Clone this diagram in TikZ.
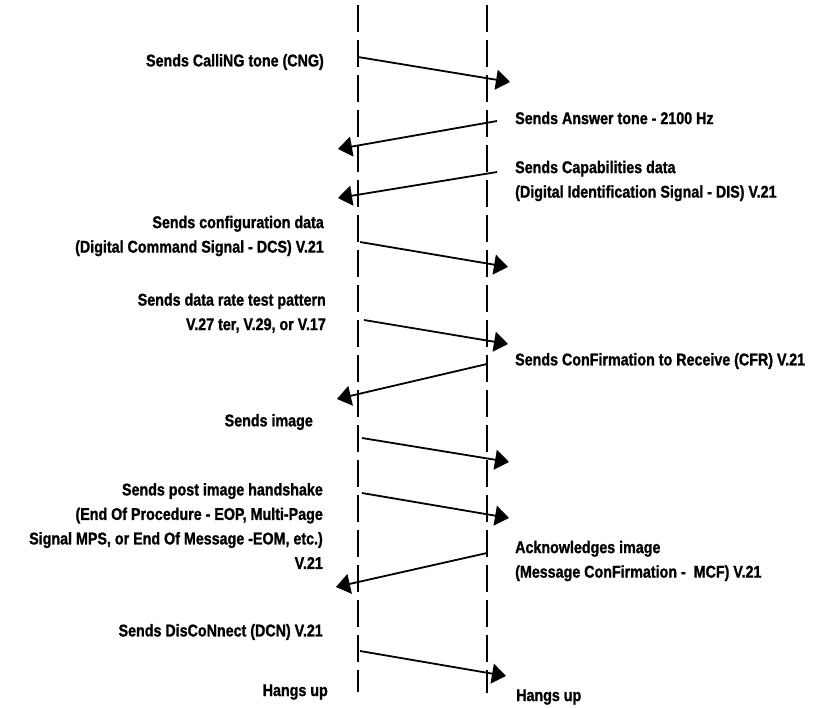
\documentclass[tikz,border=0pt]{standalone}
\usepackage{fontspec}
\setmainfont{Liberation Sans}[FakeStretch=0.84,FakeBold=1.2]
\usetikzlibrary{arrows.meta}
\begin{document}
\begin{tikzpicture}[x=1pt,y=-1pt,
  lifeline/.style={line width=2pt, dash pattern=on 27pt off 8pt},
  msg/.style={line width=1.8pt, -{Triangle[length=14pt,width=20pt]}},
  lbl/.style={font=\bfseries\fontsize{17}{24.5}\selectfont, inner sep=0pt},
  lft/.style={lbl, anchor=east, align=right},
  rgt/.style={lbl, anchor=west, align=left}]
\useasboundingbox (0,0) rectangle (822,707);
% lifelines
\coordinate (LT) at (357.5,5); \coordinate (LB) at (357.5,692);
\coordinate (RT) at (487,5);   \coordinate (RB) at (487,693);
\draw[lifeline] (LT) -- (LB);
\draw[lifeline] (RT) -- (RB);
% message end points
\coordinate (m1s) at (358,57);  \coordinate (m1e) at (510,82);
\coordinate (m2s) at (497,121); \coordinate (m2e) at (338,149);
\coordinate (m3s) at (497,172); \coordinate (m3e) at (338,198);
\coordinate (m4s) at (360,242); \coordinate (m4e) at (508,267);
\coordinate (m5s) at (364,320); \coordinate (m5e) at (508,344);
\coordinate (m6s) at (487,364); \coordinate (m6e) at (337,399);
\coordinate (m7s) at (362,438); \coordinate (m7e) at (509,462);
\coordinate (m8s) at (362,493); \coordinate (m8e) at (509,518);
\coordinate (m9s) at (487,553); \coordinate (m9e) at (336,587);
\coordinate (m10s) at (360,651); \coordinate (m10e) at (506,676);
\foreach \i in {1,...,10} {\draw[msg] (m\i s) -- (m\i e);}
% labels left
\node[lft] (t1) at (324,62) {Sends CalliNG tone (CNG)};
\node[lft] (t4) at (324,236) {Sends configuration data\\(Digital Command Signal - DCS) V.21};
\node[lft] (t5) at (326,313) {Sends data rate test pattern\\V.27 ter, V.29, or V.17};
\node[lft] (t7) at (313,422) {Sends image};
\node[lft] (t8) at (323,526) {Sends post image handshake\\(End Of Procedure - EOP, Multi-Page\\Signal MPS, or End Of Message -EOM, etc.)\\V.21};
\node[lft] (t10) at (323,632) {Sends DisCoNnect (DCN) V.21};
\node[lft] (t11) at (328,692) {Hangs up};
% labels right
\node[rgt] (t2) at (515,118) {Sends Answer tone - 2100 Hz};
\node[rgt] (t3) at (515,181) {Sends Capabilities data\\(Digital Identification Signal - DIS) V.21};
\node[rgt] (t6) at (515,361) {Sends ConFirmation to Receive (CFR) V.21};
\node[rgt] (t9) at (515,561) {Acknowledges image\\(Message ConFirmation -\ \ MCF) V.21};
\node[rgt] (t12) at (516,697) {Hangs up};
\end{tikzpicture}
\end{document}
